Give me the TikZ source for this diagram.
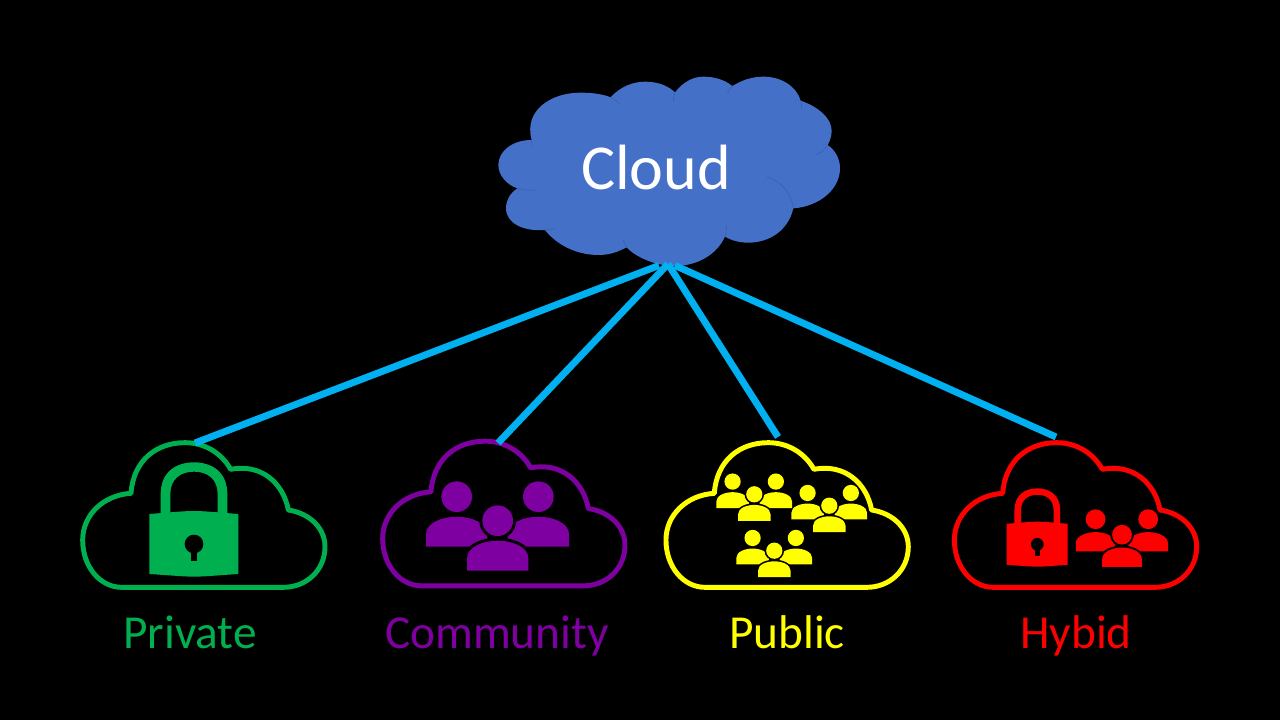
\documentclass[tikz,border=0pt]{standalone}
\usepackage{fontspec}
\setmainfont{Carlito}
\definecolor{cloudblue}{HTML}{4470C8}
\definecolor{creaseblue}{HTML}{3A62AC}
\definecolor{linkblue}{HTML}{00B0F0}
\definecolor{cgreen}{HTML}{00B050}
\definecolor{cpurple}{HTML}{7F00A0}
\definecolor{cyellow}{HTML}{FFFF00}
\definecolor{cred}{HTML}{FF0000}
\tikzset{
  link/.style={draw=linkblue,line width=5.2pt},
  outline/.style={line width=3.7pt,line join=round},
  crease/.style={draw=creaseblue,line width=0.5pt},
  bigtext/.style={text=white,font=\fontsize{48}{48}\selectfont,anchor=base,inner sep=0pt},
  labeltext/.style={font=\fontsize{35.5}{36}\selectfont,anchor=base,inner sep=0pt},
}
\newcommand{\iconcloud}[3]{% x, y, colour
  \begin{scope}[shift={(#1,#2)},scale=1/3]
    \draw[outline,draw=#3]
      (183,190) .. controls (190,92) and (258,38) .. (345,38)
      .. controls (405,38) and (455,70) .. (482,118)
      .. controls (575,100) and (640,160) .. (655,240)
      .. controls (720,250) and (765,295) .. (765,350)
      .. controls (765,420) and (710,472) .. (640,472)
      -- (155,472)
      .. controls (90,472) and (38,410) .. (38,330)
      .. controls (38,255) and (100,195) .. (183,190) -- cycle;
  \end{scope}}
\newcommand{\personshape}[1]{% colour, origin at head centre
  \fill[#1] (0,0) circle[radius=46];
  \fill[#1] (-92,150) -- (-92,113) .. controls (-92,78) and (-43,60) .. (0,60)
     .. controls (43,60) and (92,78) .. (92,113) -- (92,150) -- cycle;}
\newcommand{\crowd}[4]{% x, y (absolute px), scale, colour
  \begin{scope}[shift={(#1,#2)},scale=#3/3]
    \begin{scope}[shift={(-123,-72)}]\personshape{#4}\end{scope}
    \begin{scope}[shift={(122,-72)}]\personshape{#4}\end{scope}
    \pgfmathsetlengthmacro{\halo}{#3*4.6pt}
    \draw[black,line width=\halo] (0,0) circle[radius=46];
    \draw[black,line width=\halo] (-92,150) -- (-92,113) .. controls (-92,78) and (-43,60) .. (0,60)
     .. controls (43,60) and (92,78) .. (92,113) -- (92,150);
    \personshape{#4}
  \end{scope}}
\newcommand{\padlock}[4]{% x, y of keyhole, scale, colour
  \begin{scope}[shift={(#1,#2)},scale=#3/3]
    \fill[#4,even odd rule] (-100,-85) -- (-100,-150) .. controls (-100,-215) and (-55,-245) .. (0,-245)
       .. controls (55,-245) and (100,-215) .. (100,-150) -- (100,-85) -- cycle
       (-71,-85) -- (-71,-150) .. controls (-71,-195) and (-40,-217) .. (0,-217)
       .. controls (40,-217) and (71,-195) .. (71,-150) -- (71,-85) -- cycle;
    \fill[#4] (-134,-90) .. controls (-70,-95) and (-30,-99) .. (0,-99)
       .. controls (30,-99) and (70,-95) .. (133,-90) -- (133,90)
       .. controls (70,94) and (30,98) .. (0,98) .. controls (-30,98) and (-70,94) .. (-134,90) -- cycle;
    \fill[black] (0,0) circle[radius=28];
    \fill[black] (-10,10) rectangle (10,51);
  \end{scope}}
\begin{document}
\begin{tikzpicture}[x=0.75pt,y=-0.75pt]
\useasboundingbox (0,0) rectangle (1280,720);
\fill[black] (0,0) rectangle (1280,720);
% main cloud
\begin{scope}[shift={(480,60)},scale=1/3]
  \fill[cloudblue] (155,240)
    .. controls (130,150) and (215,98) .. (300,98)
    .. controls (340,98) and (370,103) .. (392,112)
    .. controls (420,80) and (460,65) .. (495,65)
    .. controls (535,65) and (565,78) .. (585,97)
    .. controls (610,65) and (640,50) .. (670,50)
    .. controls (705,50) and (735,60) .. (757,78)
    .. controls (790,58) and (820,50) .. (850,50)
    .. controls (905,50) and (950,80) .. (962,122)
    .. controls (1015,140) and (1055,175) .. (1055,212)
    .. controls (1055,228) and (1050,243) .. (1043,255)
    .. controls (1065,270) and (1080,295) .. (1080,325)
    .. controls (1080,390) and (1015,440) .. (940,445)
    .. controls (925,510) and (870,548) .. (805,548)
    .. controls (780,548) and (755,542) .. (735,530)
    .. controls (710,585) and (650,618) .. (585,618)
    .. controls (525,618) and (465,590) .. (440,562)
    .. controls (410,578) and (385,585) .. (355,585)
    .. controls (290,585) and (230,555) .. (195,510)
    .. controls (130,515) and (78,490) .. (78,445)
    .. controls (78,420) and (90,400) .. (112,385)
    .. controls (80,375) and (55,345) .. (55,315)
    .. controls (55,275) and (95,240) .. (155,240) -- cycle;
  \draw[crease] (860,350) .. controls (905,365) and (935,400) .. (940,445);
  \draw[crease] (735,530) .. controls (738,518) and (740,505) .. (740,495);
  \draw[crease] (440,562) .. controls (435,555) and (432,548) .. (430,540);
  \draw[crease] (195,510) .. controls (205,510) and (215,508) .. (225,505);
  \draw[crease] (112,385) .. controls (130,390) and (150,392) .. (170,390);
  \draw[crease] (155,240) .. controls (155,247) and (156,255) .. (158,262);
  \draw[crease] (392,112) .. controls (402,118) and (412,125) .. (420,133);
  \draw[crease] (585,97) .. controls (582,105) and (580,115) .. (580,125);
  \draw[crease] (757,78) .. controls (750,85) and (745,92) .. (742,100);
  \draw[crease] (962,122) .. controls (964,130) and (965,137) .. (965,145);
  \draw[crease] (1043,255) .. controls (1035,267) and (1023,277) .. (1010,285);
\end{scope}
\node[bigtext] (cloud) at (656,189.5) {Cloud};
% icons
\iconcloud{70}{430}{cgreen}
\padlock{194}{544}{1}{cgreen}
\iconcloud{370}{428.5}{cpurple}
\crowd{497.7}{520.7}{1}{cpurple}
\iconcloud{653.3}{430}{cyellow}
\crowd{754.3}{494.3}{0.53}{cyellow}
\crowd{829.3}{505.7}{0.53}{cyellow}
\crowd{774.3}{550.7}{0.53}{cyellow}
\iconcloud{941.7}{430}{cred}
\padlock{1037.3}{544.3}{0.685}{cred}
\crowd{1122}{534.7}{0.645}{cred}
% connectors
\coordinate (hubA) at (659,265.5);
\coordinate (hubB) at (668,264);
\coordinate (hubC) at (668,264);
\coordinate (hubD) at (675,265.5);
\coordinate (topPrivate) at (195,443);
\coordinate (topCommunity) at (498,443);
\coordinate (topPublic) at (778,437);
\coordinate (topHybrid) at (1056,437);
\draw[link] (hubA) -- (topPrivate);
\draw[link] (hubB) -- (topCommunity);
\draw[link] (hubC) -- (topPublic);
\draw[link] (hubD) -- (topHybrid);
% labels
\node[labeltext,text=cgreen] (private) at (190,648) {Private};
\node[labeltext,text=cpurple] (community) at (497,648) {Community};
\node[labeltext,text=cyellow] (public) at (787,648) {Public};
\node[labeltext,text=cred] (hybid) at (1076,648) {Hybid};
\end{tikzpicture}
\end{document}
